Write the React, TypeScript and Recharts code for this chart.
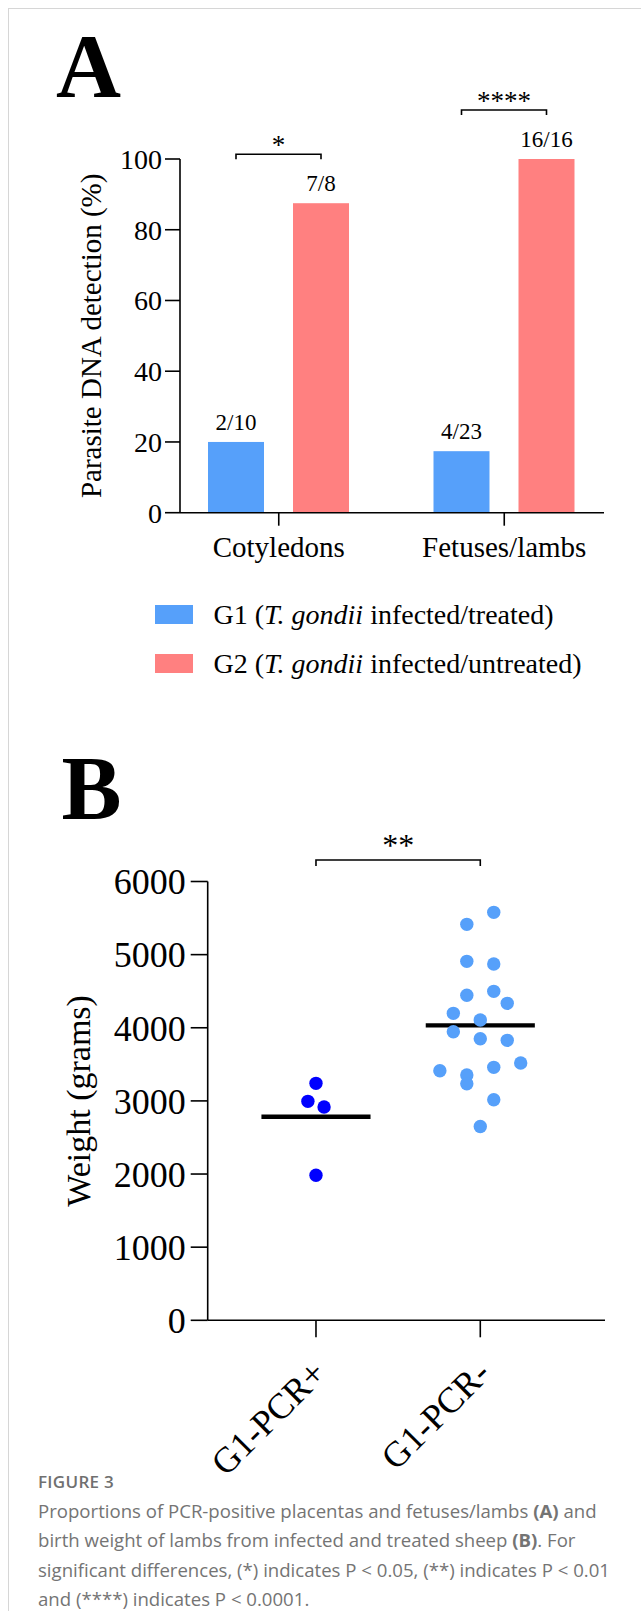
import React from "react";
import {
  BarChart,
  Bar,
  XAxis,
  YAxis,
  ScatterChart,
  Scatter,
  ReferenceLine,
} from "recharts";

// ---- panel A: parasite DNA detection ----
const tissues = ["Cotyledons", "Fetuses/lambs"];
const g1Positive = [2, 4];
const g1Total = [10, 23];
const g2Positive = [7, 16];
const g2Total = [8, 16];
const tissueSig = ["*", "****"];
const percentTicks = [0, 20, 40, 60, 80, 100];

const legendGroups = ["G1", "G2"];
const legendStatus = ["infected/treated", "infected/untreated"];

// ---- panel B: lamb birth weight ----
const weightGroups = ["G1-PCR+", "G1-PCR-"];
const pcrPosWeights = [3240, 2994, 2916, 1984];
const pcrPosColumns = [0, -0.6, 0.6, 0];
const pcrNegWeights = [
  5578, 5414, 4908, 4872, 4498, 4444, 4334, 4197, 4106, 3946, 3850, 3828,
  3518, 3459, 3413, 3354, 3235, 3016, 2649,
];
const pcrNegColumns = [1, -1, -1, 1, 1, -1, 2, -2, 0, -2, 0, 2, 3, 1, -3, -1, -1, 1, 0];
const weightTicks = [0, 1000, 2000, 3000, 4000, 5000, 6000];
const weightSig = "**";

const BLUE = "#56A0FA";
const RED = "#FF8080";
const DARK = "#0000FF";
const serif = "'Liberation Serif', 'Times New Roman', serif";
const sans = "'Open Sans', 'Noto Sans', sans-serif";

const BAR_SIZE = 56;
const BAR_GAP = 29;
const JITTER = 0.082; // one dot column, in x units
const MEAN_HALF = 0.332;

const axisStyle = { stroke: "#000", strokeWidth: 1.6 };

const dataA = tissues.map((name, i) => ({
  name,
  g1: (g1Positive[i] / g1Total[i]) * 100,
  g2: (g2Positive[i] / g2Total[i]) * 100,
  g1Label: `${g1Positive[i]}/${g1Total[i]}`,
  g2Label: `${g2Positive[i]}/${g2Total[i]}`,
  sig: tissueSig[i],
}));

const posPoints = pcrPosWeights.map((y, i) => ({ x: 1 + pcrPosColumns[i] * JITTER, y }));
const negPoints = pcrNegWeights.map((y, i) => ({ x: 2 + pcrNegColumns[i] * JITTER, y }));
const mean = (a: number[]) => a.reduce((s, v) => s + v, 0) / a.length;
const posMean = mean(pcrPosWeights);
const negMean = mean(pcrNegWeights);

function field(p: any, key: string) {
  return p.payload?.[key] ?? p[key];
}

function G1Shape(p: any) {
  return (
    <g>
      <rect x={p.x} y={p.y} width={p.width} height={p.height} fill={BLUE} />
      <text x={p.x + p.width / 2} y={p.y - 12} textAnchor="middle" fontSize={23} fill="#000">
        {field(p, "g1Label")}
      </text>
    </g>
  );
}

function G2Shape(p: any) {
  const left = p.x - BAR_GAP - p.width / 2;
  const right = p.x + p.width / 2;
  const by = p.y - 49;
  return (
    <g>
      <rect x={p.x} y={p.y} width={p.width} height={p.height} fill={RED} />
      <text x={p.x + p.width / 2} y={p.y - 12} textAnchor="middle" fontSize={23} fill="#000">
        {field(p, "g2Label")}
      </text>
      <path
        d={`M${left},${by + 5}V${by}H${right}V${by + 5}`}
        fill="none"
        stroke="#000"
        strokeWidth={1.6}
      />
      <text x={(left + right) / 2} y={by} textAnchor="middle" fontSize={27} fill="#000">
        {field(p, "sig")}
      </text>
    </g>
  );
}

function dot(color: string) {
  return (p: any) => <circle cx={p.cx} cy={p.cy} r={6.7} fill={color} />;
}

function GroupTick(p: any) {
  const ax = p.x + 12;
  const ay = p.y + 38;
  return (
    <text
      x={ax}
      y={ay}
      textAnchor="end"
      fontSize={36}
      fill="#000"
      transform={`rotate(-45 ${ax} ${ay})`}
    >
      {weightGroups[p.payload.value - 1]}
    </text>
  );
}

function SigBracket(p: any) {
  const y = p.y1 - 21.5;
  return (
    <g>
      <path
        d={`M${p.x1},${y + 6}V${y}H${p.x2}V${y + 6}`}
        fill="none"
        stroke="#000"
        strokeWidth={1.6}
      />
      <text x={(p.x1 + p.x2) / 2} y={y - 3.6} textAnchor="middle" fontSize={32} fill="#000">
        {weightSig}
      </text>
    </g>
  );
}

function yLabel(text: string, dx: number, size: number) {
  return (props: any) => {
    const vb = props.viewBox;
    return (
      <text
        transform={`translate(${vb.x + dx}, ${vb.y + vb.height / 2}) rotate(-90)`}
        textAnchor="middle"
        fontSize={size}
        fill="#000"
      >
        {text}
      </text>
    );
  };
}

const letter: React.CSSProperties = {
  position: "absolute",
  fontFamily: serif,
  fontWeight: "bold",
  fontSize: 90,
  lineHeight: 1,
  color: "#000",
};

export default function App() {
  return (
    <div
      style={{
        position: "absolute",
        left: 8,
        top: 8,
        width: 633,
        height: 1603,
        boxSizing: "border-box",
        borderTop: "1px solid #d6d6d6",
        borderLeft: "1px solid #d6d6d6",
        background: "#fff",
        fontFamily: serif,
        overflow: "hidden",
      }}
    >
      <div style={{ ...letter, left: 47, top: 13 }}>A</div>

      <div style={{ position: "absolute", left: 0, top: 52 }}>
        <BarChart
          width={625}
          height={512}
          data={dataA}
          margin={{ top: 98, right: 30, left: 0, bottom: 0 }}
          barSize={BAR_SIZE}
          barGap={BAR_GAP}
        >
          <XAxis
            dataKey="name"
            type="category"
            padding={{ left: -14, right: -13 }}
            height={60.3}
            tickSize={13}
            tickMargin={11}
            interval={0}
            tick={{ fill: "#000", fontSize: 29 }}
            axisLine={axisStyle}
            tickLine={axisStyle}
          />
          <YAxis
            type="number"
            domain={[0, 100]}
            ticks={percentTicks}
            interval={0}
            width={171}
            tickSize={15}
            tickMargin={3}
            tick={{ fill: "#000", fontSize: 28 }}
            axisLine={axisStyle}
            tickLine={axisStyle}
            label={yLabel("Parasite DNA detection (%)", 92, 29)}
          />
          <Bar dataKey="g1" fill={BLUE} shape={G1Shape} isAnimationActive={false} />
          <Bar dataKey="g2" fill={RED} shape={G2Shape} isAnimationActive={false} />
        </BarChart>
      </div>

      {legendGroups.map((g, i) => (
        <React.Fragment key={g}>
          <div
            style={{
              position: "absolute",
              left: 146,
              top: 596 + i * 49,
              width: 38,
              height: 18.7,
              background: i === 0 ? BLUE : RED,
            }}
          />
          <div
            style={{
              position: "absolute",
              left: 204.5,
              top: 591.9 + i * 49,
              fontSize: 28,
              lineHeight: 1,
              whiteSpace: "nowrap",
              color: "#000",
            }}
          >
            {g} (<i>T. gondii</i> {legendStatus[i]})
          </div>
        </React.Fragment>
      ))}

      <div style={{ ...letter, left: 52.6, top: 735.2 }}>B</div>

      <div style={{ position: "absolute", left: 0, top: 790 }}>
        <ScatterChart
          width={625}
          height={682}
          margin={{ top: 82.5, right: 29, left: 0, bottom: 0 }}
        >
          <XAxis
            type="number"
            dataKey="x"
            domain={[0.341, 2.759]}
            allowDataOverflow
            ticks={[1, 2]}
            interval={0}
            height={160.7}
            tickSize={17}
            tickMargin={0}
            tick={GroupTick}
            axisLine={axisStyle}
            tickLine={axisStyle}
          />
          <YAxis
            type="number"
            dataKey="y"
            domain={[0, 6000]}
            allowDataOverflow
            ticks={weightTicks}
            interval={0}
            width={198.7}
            tickSize={17}
            tickMargin={5}
            tick={{ fill: "#000", fontSize: 36 }}
            axisLine={axisStyle}
            tickLine={axisStyle}
            label={yLabel("Weight (grams)", 81, 34)}
          />
          <Scatter data={posPoints} shape={dot(DARK)} isAnimationActive={false} />
          <Scatter data={negPoints} shape={dot(BLUE)} isAnimationActive={false} />
          <ReferenceLine
            segment={[
              { x: 1 - MEAN_HALF, y: posMean },
              { x: 1 + MEAN_HALF, y: posMean },
            ]}
            stroke="#000"
            strokeWidth={4.3}
            ifOverflow="visible"
          />
          <ReferenceLine
            segment={[
              { x: 2 - MEAN_HALF, y: negMean },
              { x: 2 + MEAN_HALF, y: negMean },
            ]}
            stroke="#000"
            strokeWidth={4.3}
            ifOverflow="visible"
          />
          <ReferenceLine
            segment={[
              { x: 1, y: 6000 },
              { x: 2, y: 6000 },
            ]}
            ifOverflow="visible"
            shape={SigBracket}
          />
        </ScatterChart>
      </div>

      <div
        style={{
          position: "absolute",
          left: 29,
          top: 1464,
          fontFamily: sans,
          fontSize: 17,
          fontWeight: 600,
          letterSpacing: 0.3,
          lineHeight: 1,
          color: "#707070",
        }}
      >
        FIGURE 3
      </div>
      <div
        style={{
          position: "absolute",
          left: 29,
          top: 1487,
          fontFamily: sans,
          fontSize: 18.6,
          lineHeight: "29.4px",
          color: "#747474",
          whiteSpace: "nowrap",
        }}
      >
        Proportions of PCR-positive placentas and fetuses/lambs <b>(A)</b> and
        <br />
        birth weight of lambs from infected and treated sheep <b>(B)</b>. For
        <br />
        significant differences, (*) indicates P &lt; 0.05, (**) indicates P &lt; 0.01
        <br />
        and (****) indicates P &lt; 0.0001.
      </div>
    </div>
  );
}
